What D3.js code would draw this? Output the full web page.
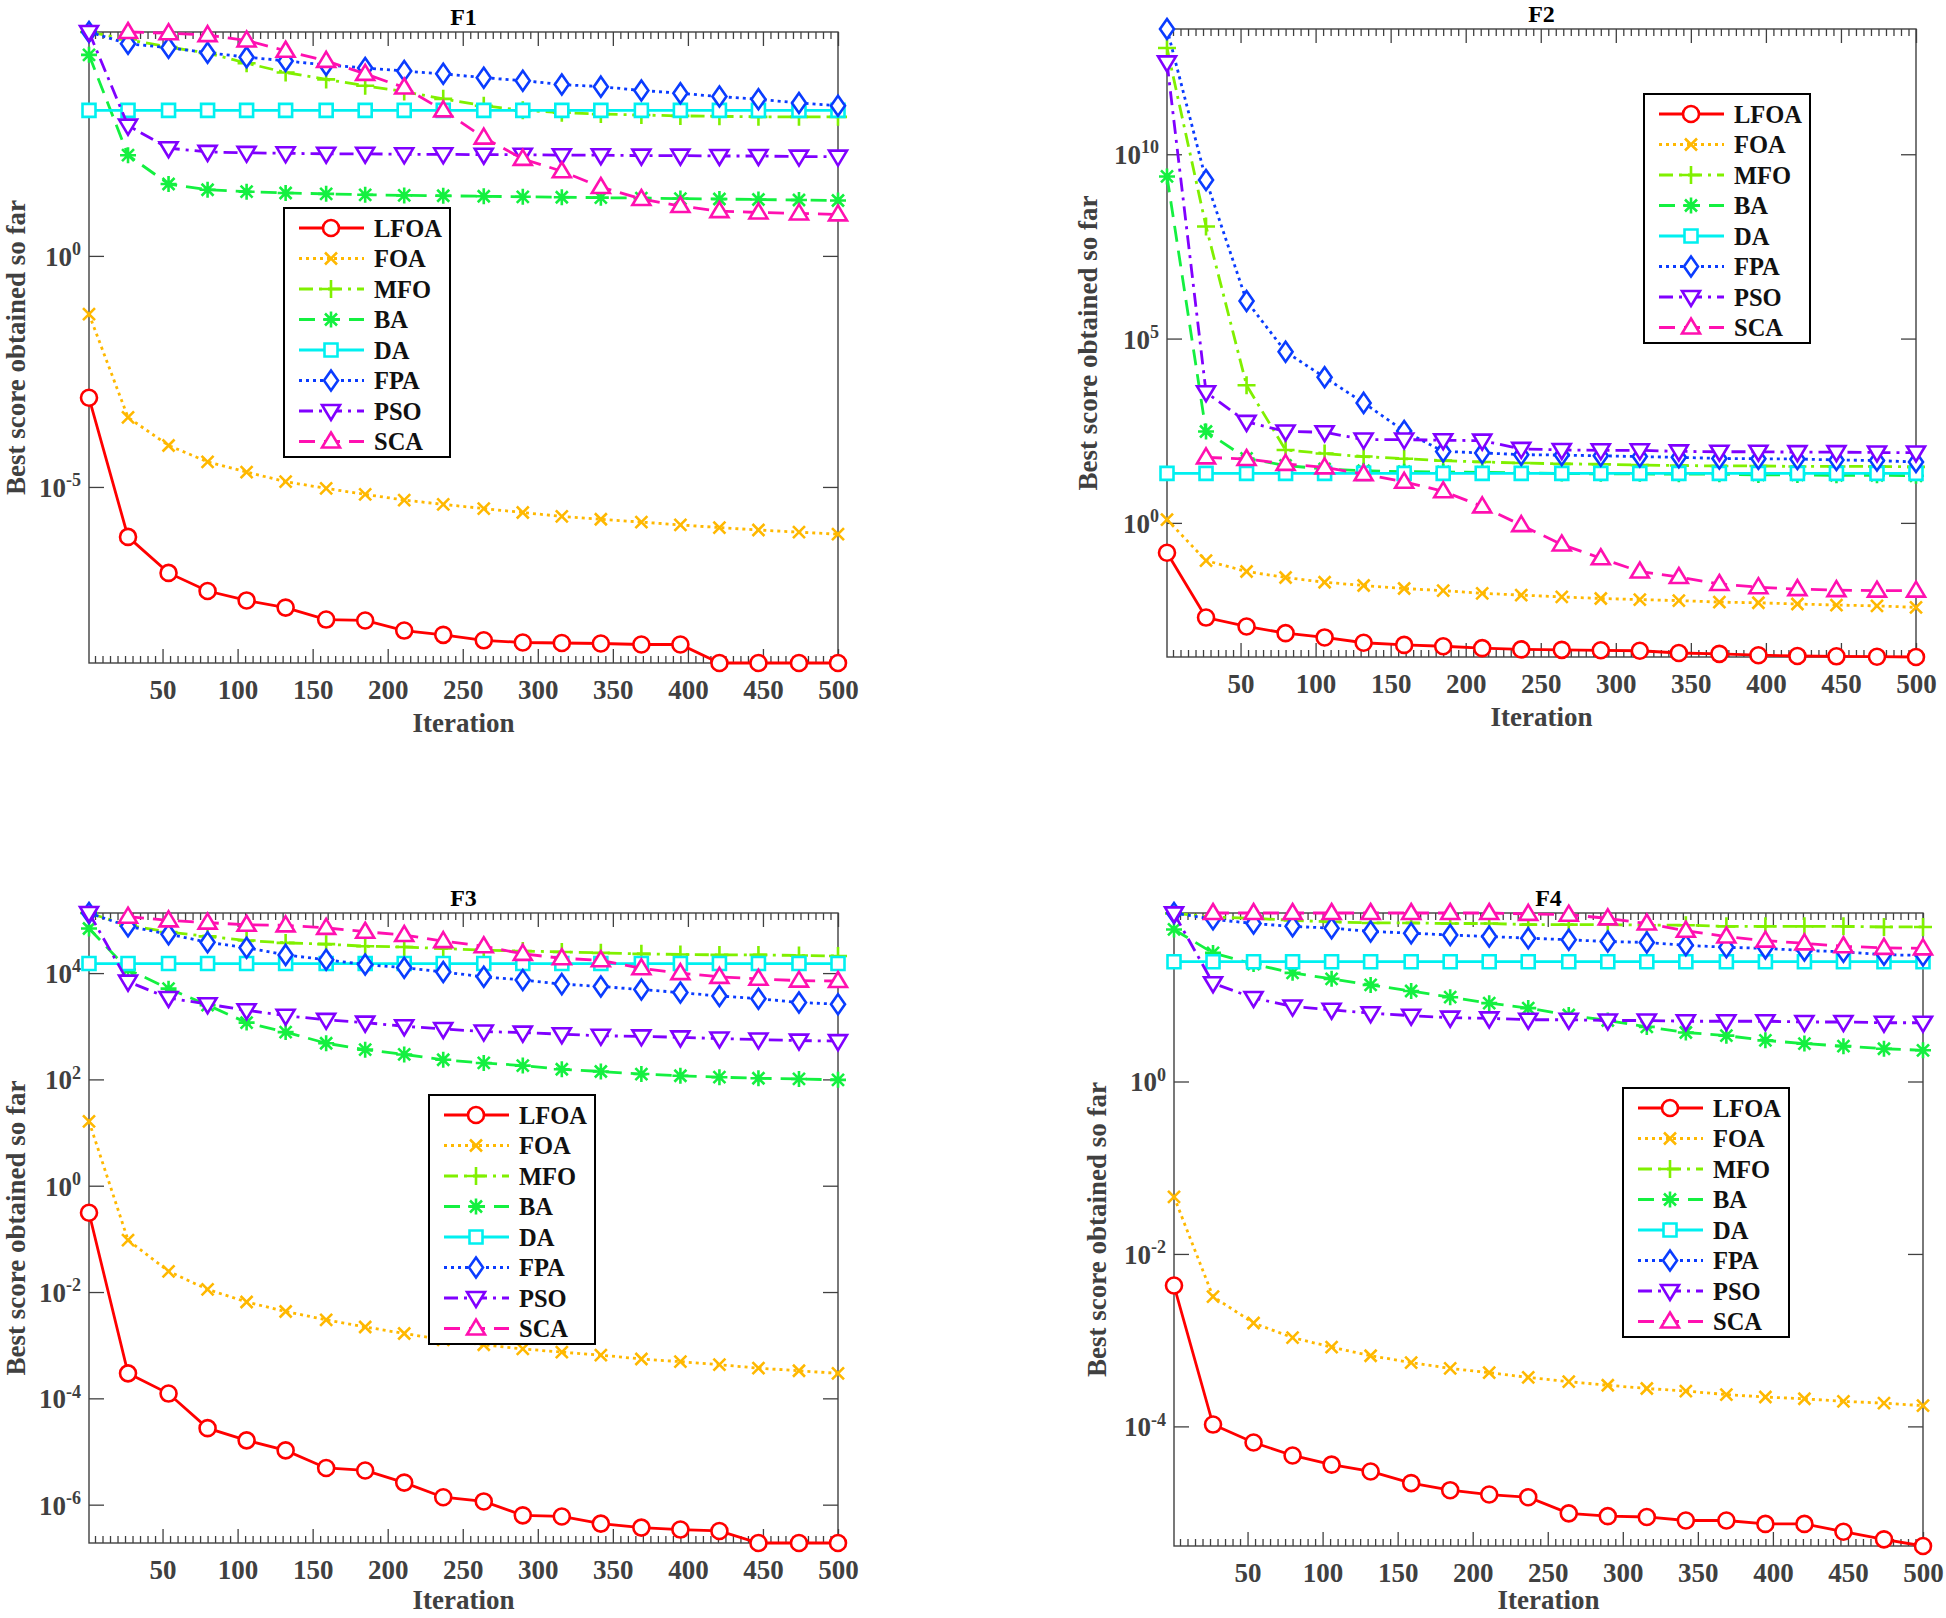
<!DOCTYPE html>
<html>
<head>
<meta charset="utf-8">
<script src="https://cdn.jsdelivr.net/npm/d3@7"></script>
<style>
    body { margin: 0; background: #fff; }
    text { font-family: "Liberation Serif", "Times New Roman", serif; font-weight: bold; }
</style>
</head>
<body>
<div id="chart"></div>
<script>
// iterations where the markers sit
const iterations = [1, 27, 54, 80, 106, 132, 159, 185, 211, 237, 264, 290, 316, 342, 369, 395, 421, 447, 474, 500];
const algorithms = ["LFOA", "FOA", "MFO", "BA", "DA", "FPA", "PSO", "SCA"];
const xTicks = [50, 100, 150, 200, 250, 300, 350, 400, 450, 500];

// F1
const F1_LFOA = [8.5e-4, 8.3e-7, 1.38e-7, 5.6e-8, 3.5e-8, 2.45e-8, 1.35e-8, 1.29e-8, 7.8e-9, 6.3e-9, 4.8e-9, 4.3e-9, 4.2e-9, 4.1e-9, 3.9e-9, 3.9e-9, 1.55e-9, 1.55e-9, 1.55e-9, 1.55e-9];
const F1_FOA = [5.5e-2, 3.2e-4, 7.9e-5, 3.5e-5, 2.1e-5, 1.3e-5, 9.3e-6, 6.9e-6, 5.2e-6, 4.2e-6, 3.4e-6, 2.8e-6, 2.3e-6, 2.0e-6, 1.74e-6, 1.51e-6, 1.32e-6, 1.17e-6, 1.05e-6, 9.5e-7];
const F1_MFO = [7.0e4, 4.8e4, 3.3e4, 2.45e4, 1.48e4, 9.3e3, 6.6e3, 4.8e3, 3.6e3, 2.5e3, 1.78e3, 1.41e3, 1.26e3, 1.17e3, 1.12e3, 1.07e3, 1.05e3, 1.02e3, 1.02e3, 1.02e3];
const F1_BA = [2.24e4, 151, 36, 27, 24.5, 23, 22, 21, 20.4, 20, 19.5, 19, 18.6, 18.2, 17.8, 17.4, 17.0, 16.6, 16.2, 15.8];
const F1_DA = [1410, 1410, 1410, 1410, 1410, 1410, 1410, 1410, 1410, 1410, 1410, 1410, 1410, 1410, 1410, 1410, 1410, 1410, 1410, 1410];
const F1_FPA = [7.0e4, 3.9e4, 3.2e4, 2.5e4, 2.0e4, 1.66e4, 1.35e4, 1.17e4, 1.0e4, 8.7e3, 7.2e3, 6.2e3, 5.1e3, 4.6e3, 3.8e3, 3.3e3, 2.8e3, 2.45e3, 2.04e3, 1.78e3];
const F1_PSO = [7.0e4, 660, 214, 178, 170, 166, 162, 162, 158, 158, 155, 155, 151, 151, 148, 148, 145, 145, 141, 141];
const F1_SCA = [null, 7.0e4, 6.6e4, 6.0e4, 4.6e4, 2.75e4, 1.66e4, 8.7e3, 4.4e3, 1.41e3, 363, 126, 68, 31, 17, 12, 9.3, 8.7, 8.3, 7.9];
const F1_YTICKS = [1e-5, 1e0];

// F2
const F2_LFOA = [0.155, 2.7e-3, 1.55e-3, 1.02e-3, 7.8e-4, 5.6e-4, 4.9e-4, 4.5e-4, 4.0e-4, 3.7e-4, 3.6e-4, 3.5e-4, 3.4e-4, 2.95e-4, 2.8e-4, 2.57e-4, 2.45e-4, 2.4e-4, 2.34e-4, 2.3e-4];
const F2_FOA = [1.23, 0.095, 0.048, 0.033, 0.0245, 0.020, 0.0166, 0.0145, 0.0123, 0.011, 0.0098, 0.0089, 0.0083, 0.0078, 0.0071, 0.0068, 0.0063, 0.0059, 0.0056, 0.0051];
const F2_MFO = [7.6e12, 1.1e8, 5.4e3, 95, 76, 63, 55, 49, 45, 42, 40, 39, 37, 36, 35, 35, 34, 34, 34, 33];
const F2_BA = [2.5e9, 302, 56, 36, 29, 26, 24.5, 24, 23.4, 22.9, 21.9, 21.4, 21.4, 20.9, 20.9, 20, 20, 19.5, 19.5, 19];
const F2_DA = [22, 22, 22, 22, 22, 22, 22, 22, 22, 22, 22, 22, 22, 22, 22, 22, 22, 22, 22, 22];
const F2_FPA = [2.5e13, 2.0e9, 1.05e6, 4.4e4, 8.9e3, 1.8e3, 309, 87, 79, 71, 69, 66, 63, 60, 56, 55, 54, 51, 49, 45];
const F2_PSO = [3.1e12, 3.5e3, 550, 302, 288, 182, 182, 174, 170, 102, 95, 93, 93, 87, 85, 85, 83, 83, 81, 81];
const F2_SCA = [null, 60, 54, 40, 32, 21, 13, 7.2, 2.8, 0.87, 0.26, 0.11, 0.048, 0.034, 0.022, 0.018, 0.016, 0.015, 0.0145, 0.0145];
const F2_YTICKS = [1e0, 1e5, 1e10];

// F3
const F3_LFOA = [0.31, 2.95e-4, 1.23e-4, 2.75e-5, 1.62e-5, 1.05e-5, 4.9e-6, 4.4e-6, 2.6e-6, 1.38e-6, 1.15e-6, 6.3e-7, 6.0e-7, 4.4e-7, 3.7e-7, 3.4e-7, 3.2e-7, 1.9e-7, 1.9e-7, 1.9e-7];
const F3_FOA = [16.2, 0.095, 0.0245, 0.0112, 0.0065, 0.0043, 0.0030, 0.0022, 0.00166, 0.00126, 0.00102, 8.5e-4, 7.4e-4, 6.5e-4, 5.5e-4, 4.9e-4, 4.3e-4, 3.7e-4, 3.3e-4, 2.95e-4];
const F3_MFO = [1.35e5, 7.9e4, 5.9e4, 4.9e4, 4.1e4, 3.7e4, 3.5e4, 3.2e4, 3.1e4, 2.9e4, 2.7e4, 2.6e4, 2.5e4, 2.4e4, 2.3e4, 2.24e4, 2.2e4, 2.2e4, 2.14e4, 2.1e4];
const F3_BA = [6.9e4, 1.17e4, 5.1e3, 2.5e3, 1.17e3, 776, 479, 363, 295, 234, 204, 182, 155, 141, 126, 117, 110, 105, 102, 98];
const F3_DA = [1.51e4, 1.51e4, 1.51e4, 1.51e4, 1.51e4, 1.51e4, 1.51e4, 1.51e4, 1.51e4, 1.51e4, 1.51e4, 1.51e4, 1.51e4, 1.51e4, 1.51e4, 1.51e4, 1.51e4, 1.51e4, 1.51e4, 1.51e4];
const F3_FPA = [1.35e5, 7.6e4, 5.4e4, 3.8e4, 3.0e4, 2.2e4, 1.78e4, 1.45e4, 1.26e4, 1.05e4, 8.5e3, 7.4e3, 6.2e3, 5.6e3, 4.9e3, 4.3e3, 3.7e3, 3.3e3, 2.8e3, 2.6e3];
const F3_PSO = [1.35e5, 6.9e3, 3.4e3, 2.6e3, 2.0e3, 1.58e3, 1.32e3, 1.17e3, 1.0e3, 890, 794, 759, 708, 661, 646, 617, 589, 562, 537, 525];
const F3_SCA = [null, 1.15e5, 9.8e4, 8.9e4, 8.1e4, 7.9e4, 7.1e4, 6.0e4, 5.2e4, 4.0e4, 3.2e4, 2.3e4, 1.9e4, 1.74e4, 1.23e4, 1.0e4, 8.5e3, 7.8e3, 7.2e3, 7.1e3];
const F3_YTICKS = [1e-6, 1e-4, 1e-2, 1e0, 1e2, 1e4];

// F4
const F4_LFOA = [4.3e-3, 1.05e-4, 6.5e-5, 4.6e-5, 3.6e-5, 3.0e-5, 2.2e-5, 1.82e-5, 1.62e-5, 1.51e-5, 9.8e-6, 9.1e-6, 8.9e-6, 8.1e-6, 8.1e-6, 7.4e-6, 7.4e-6, 6.0e-6, 4.9e-6, 4.1e-6];
const F4_FOA = [0.046, 3.2e-3, 1.58e-3, 1.07e-3, 8.3e-4, 6.6e-4, 5.5e-4, 4.7e-4, 4.2e-4, 3.7e-4, 3.3e-4, 3.0e-4, 2.75e-4, 2.57e-4, 2.34e-4, 2.19e-4, 2.09e-4, 1.95e-4, 1.86e-4, 1.74e-4];
const F4_MFO = [89, 81, 78, 74, 71, 69, 69, 68, 68, 66, 66, 66, 65, 65, 63, 63, 63, 63, 62, 62];
const F4_BA = [58, 31, 23, 18.2, 15.5, 13.2, 11.2, 9.5, 8.1, 7.1, 5.9, 5.1, 4.3, 3.7, 3.4, 3.0, 2.75, 2.57, 2.4, 2.3];
const F4_DA = [24.5, 24.5, 24.5, 24.5, 24.5, 24.5, 24.5, 24.5, 24.5, 24.5, 24.5, 24.5, 24.5, 24.5, 24.5, 24.5, 24.5, 24.5, 24.5, 24.5];
const F4_FPA = [90, 76, 68, 63, 60, 55, 52.5, 50, 48, 46, 44, 42, 41, 38, 36, 35, 33, 32, 29.5, 29];
const F4_PSO = [89, 13.8, 9.3, 7.4, 6.8, 6.2, 5.8, 5.5, 5.4, 5.2, 5.2, 5.1, 5.1, 5.0, 5.0, 5.0, 4.9, 4.9, 4.8, 4.8];
const F4_SCA = [null, 90, 90, 90, 90, 90, 90, 90, 90, 88, 86, 78, 68, 56, 48, 43, 40, 37, 35.5, 35];
const F4_YTICKS = [1e-4, 1e-2, 1e0];

// line look per algorithm (same order as algorithms)
const seriesStyles = [
    {color: "#ff0000", dash: null,       marker: "circle"},
    {color: "#ffb800", dash: "3,4",      marker: "cross"},
    {color: "#80f000", dash: "14,6,3,6", marker: "plus"},
    {color: "#14f040", dash: "16,9",     marker: "star"},
    {color: "#00f0f0", dash: null,       marker: "square"},
    {color: "#0a3cff", dash: "3,4",      marker: "diamond"},
    {color: "#8000ff", dash: "14,6,3,6", marker: "triDown"},
    {color: "#ff10b0", dash: "16,9",     marker: "triUp"}
];

// panel placement
const panels = [
    {title: "F1", left: 89, right: 838, top: 32, bottom: 663, yLabelX: 16, legendX: 284, legendY: 208,
        yTicks: F1_YTICKS, series: [F1_LFOA, F1_FOA, F1_MFO, F1_BA, F1_DA, F1_FPA, F1_PSO, F1_SCA]},
    {title: "F2", left: 1167, right: 1916, top: 29, bottom: 657, yLabelX: 1088, legendX: 1644, legendY: 94,
        yTicks: F2_YTICKS, series: [F2_LFOA, F2_FOA, F2_MFO, F2_BA, F2_DA, F2_FPA, F2_PSO, F2_SCA]},
    {title: "F3", left: 89, right: 838, top: 913, bottom: 1543, yLabelX: 16, legendX: 429, legendY: 1095,
        yTicks: F3_YTICKS, series: [F3_LFOA, F3_FOA, F3_MFO, F3_BA, F3_DA, F3_FPA, F3_PSO, F3_SCA]},
    {title: "F4", left: 1174, right: 1923, top: 913, bottom: 1546, yLabelX: 1097, legendX: 1623, legendY: 1088,
        yTicks: F4_YTICKS, series: [F4_LFOA, F4_FOA, F4_MFO, F4_BA, F4_DA, F4_FPA, F4_PSO, F4_SCA]}
];

const axisColor = "#404040";

function markerPath(shape) {
    switch (shape) {
        case "circle": return "M-8,0A8,8 0 1,0 8,0A8,8 0 1,0 -8,0Z";
        case "square": return "M-6.5,-6.5H6.5V6.5H-6.5Z";
        case "diamond": return "M0,-10L7,0L0,10L-7,0Z";
        case "triDown": return "M-9,-6H9L0,9Z";
        case "triUp": return "M0,-9L9,6H-9Z";
        case "plus": return "M-9,0H9M0,-9V9";
        case "cross": return "M-6,-6L6,6M-6,6L6,-6";
        case "star": return "M-8,0H8M0,-8V8M-6,-6L6,6M-6,6L6,-6";
    }
}

function isClosed(shape) {
    return ["circle", "square", "diamond", "triDown", "triUp"].includes(shape);
}

const svg = d3.select("#chart").append("svg")
    .attr("width", 1946)
    .attr("height", 1618)
    .style("background", "#fff");

function styleAxis(sel) {
    sel.attr("color", axisColor)
        .attr("font-family", null)
        .attr("font-size", null);
    sel.select(".domain").remove();
    sel.selectAll(".tick line").attr("stroke-width", 1.3);
}

function drawPanel(p) {
    let g = svg.append("g");

    let x = d3.scaleLinear().domain([1, 500]).range([p.left, p.right]);
    let allVals = p.series.flat().filter(v => v != null);
    let y = d3.scaleLog().domain(d3.extent(allVals)).range([p.bottom, p.top]);

    let minorTicks = d3.range(5, 500, 5).filter(v => v % 50 !== 0);

    // minor x ticks, bottom and top
    g.append("g").attr("transform", `translate(0,${p.bottom})`)
        .call(d3.axisBottom(x).tickValues(minorTicks).tickSize(-7).tickSizeOuter(0).tickFormat(""))
        .call(styleAxis);
    g.append("g").attr("transform", `translate(0,${p.top})`)
        .call(d3.axisTop(x).tickValues(minorTicks).tickSize(-7).tickSizeOuter(0).tickFormat(""))
        .call(styleAxis);

    // major x ticks with labels
    let xAxis = g.append("g").attr("transform", `translate(0,${p.bottom})`)
        .call(d3.axisBottom(x).tickValues(xTicks).tickSize(-14).tickSizeOuter(0).tickPadding(17))
        .call(styleAxis);
    xAxis.selectAll(".tick text").attr("font-size", 27);
    g.append("g").attr("transform", `translate(0,${p.top})`)
        .call(d3.axisTop(x).tickValues(xTicks).tickSize(-14).tickSizeOuter(0).tickFormat(""))
        .call(styleAxis);

    // y ticks, labels as 10^n
    let yAxis = g.append("g").attr("transform", `translate(${p.left},0)`)
        .call(d3.axisLeft(y).tickValues(p.yTicks).tickSize(-15).tickSizeOuter(0).tickPadding(8).tickFormat(""))
        .call(styleAxis);
    yAxis.selectAll(".tick text").each(function(d) {
        let t = d3.select(this).attr("font-size", 27).attr("dy", "0.35em");
        t.append("tspan").text("10");
        t.append("tspan").attr("dy", "-0.6em").attr("font-size", 18).text(Math.round(Math.log10(d)));
    });
    g.append("g").attr("transform", `translate(${p.right},0)`)
        .call(d3.axisRight(y).tickValues(p.yTicks).tickSize(-15).tickSizeOuter(0).tickFormat(""))
        .call(styleAxis);

    // frame
    g.append("rect")
        .attr("x", p.left).attr("y", p.top)
        .attr("width", p.right - p.left).attr("height", p.bottom - p.top)
        .attr("fill", "none").attr("stroke", axisColor).attr("stroke-width", 1.4);

    // curves
    let line = d3.line()
        .defined(d => d[1] != null)
        .x(d => x(d[0]))
        .y(d => y(d[1]));

    p.series.forEach((vals, i) => {
        let st = seriesStyles[i];
        let pts = iterations.map((it, k) => [it, vals[k]]);
        g.append("path")
            .datum(pts)
            .attr("d", line)
            .attr("fill", "none")
            .attr("stroke", st.color)
            .attr("stroke-width", 2.8)
            .attr("stroke-dasharray", st.dash);
        g.append("g").selectAll("path")
            .data(pts.filter(d => d[1] != null))
            .join("path")
            .attr("transform", d => `translate(${x(d[0])},${y(d[1])})`)
            .attr("d", markerPath(st.marker))
            .attr("fill", isClosed(st.marker) ? "#fff" : "none")
            .attr("stroke", st.color)
            .attr("stroke-width", 2.6);
    });

    // title and axis labels
    g.append("text")
        .attr("x", (p.left + p.right) / 2).attr("y", p.top - 15)
        .attr("dy", "0.35em").attr("text-anchor", "middle")
        .attr("font-size", 24).attr("fill", "#000")
        .text(p.title);
    g.append("text")
        .attr("x", (p.left + p.right) / 2).attr("y", Math.min(p.bottom + 60, 1600))
        .attr("dy", "0.35em").attr("text-anchor", "middle")
        .attr("font-size", 27).attr("fill", axisColor)
        .text("Iteration");
    g.append("text")
        .attr("transform", `translate(${p.yLabelX},${(p.top + p.bottom) / 2}) rotate(-90)`)
        .attr("dy", "0.35em").attr("text-anchor", "middle")
        .attr("font-size", 27).attr("fill", axisColor)
        .text("Best score obtained so far");

    // legend
    let lg = g.append("g").attr("transform", `translate(${p.legendX},${p.legendY})`);
    lg.append("rect")
        .attr("width", 166).attr("height", 249)
        .attr("fill", "#fff").attr("stroke", "#000").attr("stroke-width", 2);
    algorithms.forEach((name, i) => {
        let st = seriesStyles[i];
        let cy = 20 + i * 30.5;
        lg.append("line")
            .attr("x1", 15).attr("x2", 80).attr("y1", cy).attr("y2", cy)
            .attr("stroke", st.color).attr("stroke-width", 2.8)
            .attr("stroke-dasharray", st.dash);
        lg.append("path")
            .attr("transform", `translate(47,${cy})`)
            .attr("d", markerPath(st.marker))
            .attr("fill", isClosed(st.marker) ? "#fff" : "none")
            .attr("stroke", st.color).attr("stroke-width", 2.6);
        lg.append("text")
            .attr("x", 90).attr("y", cy).attr("dy", "0.35em")
            .attr("font-size", 24.5).attr("fill", "#111")
            .text(name);
    });
}

panels.forEach(drawPanel);
</script>
</body>
</html>
